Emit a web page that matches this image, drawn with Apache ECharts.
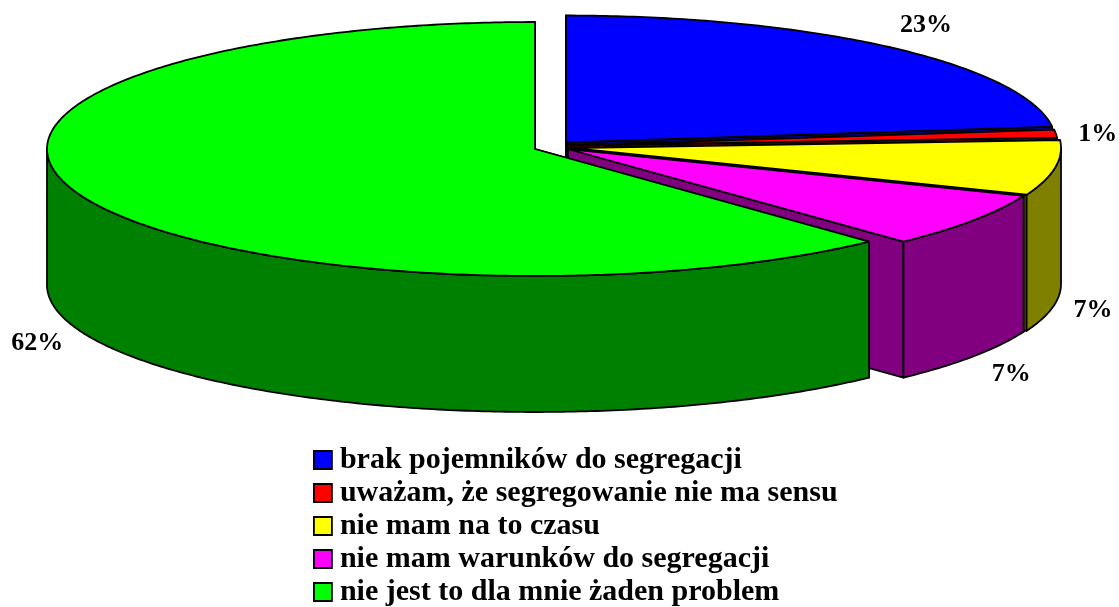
<!DOCTYPE html>
<html>
<head>
<meta charset="utf-8">
<style>html,body{margin:0;padding:0;background:#fff}#c{width:1119px;height:607px}</style>
<script src="https://cdn.jsdelivr.net/npm/echarts@6/dist/echarts.min.js"></script>
</head>
<body>
<div id="c"></div>
<script>
const categories = ['brak pojemników do segregacji','uważam, że segregowanie nie ma sensu','nie mam na to czasu','nie mam warunków do segregacji','nie jest to dla mnie żaden problem'];
const values = [23, 1, 7, 7, 62];
const labels = ['23%','1%','7%','7%','62%'];
const topColors = ['#0000ff','#ff0000','#ffff00','#ff00ff','#00ff00'];
const wallColors = ['#000080','#800000','#808000','#800080','#008000'];
// layout of the exploded pie
const centersX = [566,568,571,568,535];
const centersY = [142.5,145.5,148,149,149];
const radiiX = [490,490,490,490,488];
const radiusY = 127;
const depth = 136;
const labelDX = [36,42,38,38,-44];
const labelDY = [-22,1,6,18,12];

const total = values.reduce((a,b)=>a+b,0);
let acc = 0;
const spans = values.map(v=>{const s=[acc/total*360,(acc+v)/total*360];acc+=v;return s;});
const rad = d=>d*Math.PI/180;

function pt(i,deg,dz){
  return [centersX[i]+radiiX[i]*Math.sin(rad(deg)), centersY[i]-radiusY*Math.cos(rad(deg))+(dz||0)];
}
function arc(i,a,b,dz){
  const n=Math.max(2,Math.ceil(Math.abs(b-a)*1.5)),r=[];
  for(let k=0;k<=n;k++) r.push(pt(i,a+(b-a)*k/n,dz));
  return r;
}
function poly(points,fill){
  return {type:'polygon',shape:{points},style:{fill,stroke:'#000',lineWidth:1.8,lineJoin:'round'}};
}
function labelPoint(i){
  const [a,b]=spans[i],m=(a+b)/2;
  const front=Math.cos(rad(m))<0;
  const p=pt(i,m,front?depth:0);
  return [p[0]+labelDX[i],p[1]+labelDY[i]];
}
function render(i){
  return function(){
    const [a,b]=spans[i];
    const c=[centersX[i],centersY[i]];
    const cd=[c[0],c[1]+depth];
    const children=[];
    [a,b].forEach(t=>{
      children.push(poly([c,pt(i,t),pt(i,t,depth),cd],wallColors[i]));
    });
    const wa=Math.max(a,90),wb=Math.min(b,270);
    if(wb>wa){
      children.push(poly(arc(i,wa,wb,0).concat(arc(i,wb,wa,depth)),wallColors[i]));
    }
    children.push(poly([c].concat(arc(i,a,b,0)),topColors[i]));
    const lp=labelPoint(i);
    children.push({type:'text',style:{text:labels[i],x:lp[0],y:lp[1],fill:'#000',
      font:'bold 26px "Liberation Serif"',textAlign:'center',textVerticalAlign:'middle'}});
    return {type:'group',children};
  };
}
const chart=echarts.init(document.getElementById('c'),null,{renderer:'canvas'});
chart.setOption({
  animation:false,
  backgroundColor:'#fff',
  legend:{
    orient:'vertical',left:313,top:445,itemGap:3,itemWidth:18,itemHeight:18,
    selectedMode:false,padding:0,
    textStyle:{fontFamily:'Liberation Serif',fontWeight:'bold',fontSize:30,color:'#000',lineHeight:28,padding:[0,0,0,3]},
    data:categories.map((name,i)=>({name,icon:'rect',itemStyle:{color:topColors[i],borderColor:'#000',borderWidth:1.8}}))
  },
  series:categories.map((name,i)=>({
    type:'custom',name,coordinateSystem:'none',silent:true,
    itemStyle:{color:topColors[i]},
    data:[values[i]],
    renderItem:render(i)
  }))
});
</script>
</body>
</html>
